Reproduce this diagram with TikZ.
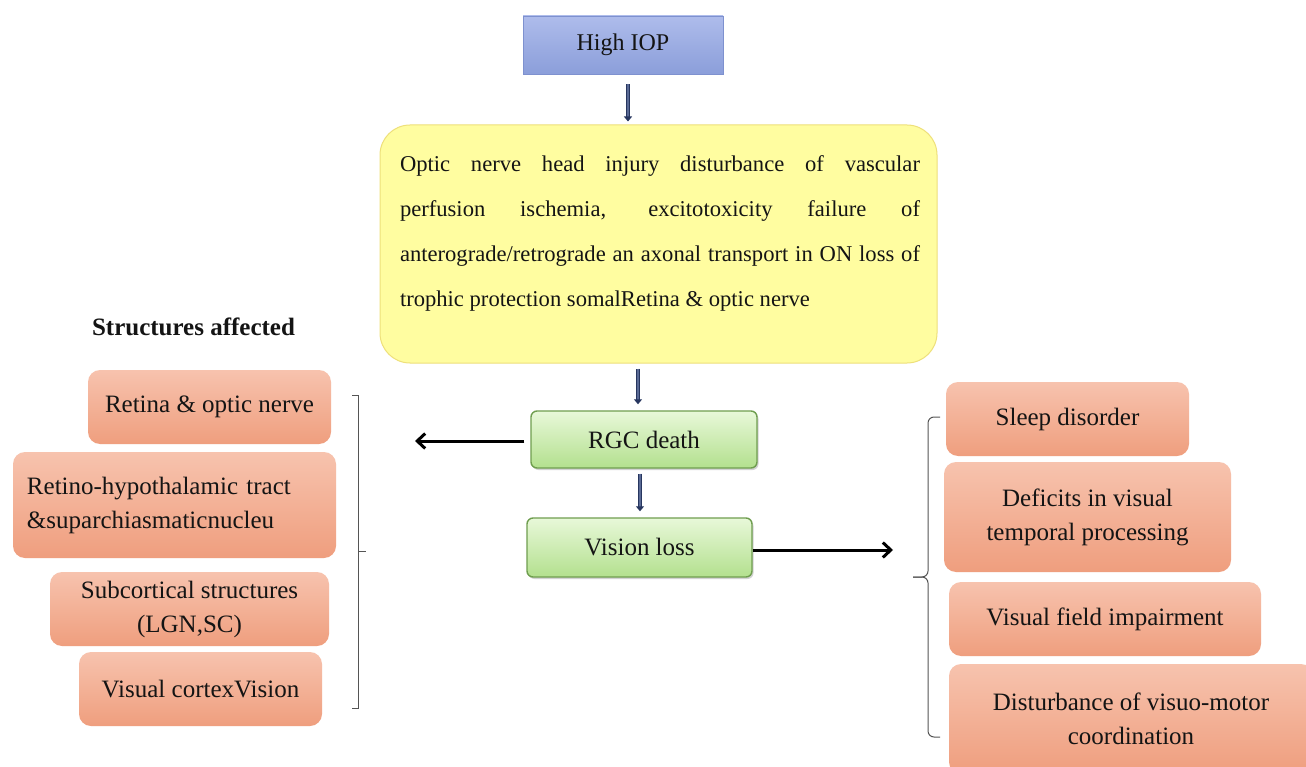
\documentclass[tikz,border=0pt]{standalone}
\usepackage{fontspec}
\setmainfont{Liberation Serif}
\usetikzlibrary{arrows.meta,shadows}
\definecolor{iopTop}{HTML}{AEBCEB}
\definecolor{iopBot}{HTML}{8B9EDA}
\definecolor{iopLine}{HTML}{7E91CF}
\definecolor{yelFill}{HTML}{FFFDA0}
\definecolor{yelLine}{HTML}{EEE07A}
\definecolor{grnTop}{HTML}{E8F8D9}
\definecolor{grnBot}{HTML}{B3E08E}
\definecolor{grnLine}{HTML}{6F9E4F}
\definecolor{salTop}{HTML}{F7C3AE}
\definecolor{salBot}{HTML}{EF9E7E}
\definecolor{navyArr}{HTML}{27365F}
\definecolor{navyIn}{HTML}{5A6A95}
\definecolor{txt}{HTML}{141414}
\definecolor{brk}{HTML}{555555}
\tikzset{
  iopbox/.style={draw=iopLine, line width=0.8pt, top color=iopTop, bottom color=iopBot,
    inner sep=0pt, text=txt, font=\fontsize{24}{30}\selectfont},
  yelbox/.style={draw=yelLine, line width=1pt, fill=yelFill, rounded corners=30pt, inner sep=0pt},
  yeltext/.style={text width=520pt, align=justify, inner sep=0pt, text=txt,
    font=\fontsize{22.6}{45}\selectfont,
    execute at begin node={\hyphenpenalty=10000\relax}},
  grnbox/.style={draw=grnLine, line width=1.4pt, top color=grnTop, bottom color=grnBot,
    rounded corners=6pt, inner sep=0pt, text=txt, font=\fontsize{25}{30}\selectfont,
    drop shadow={shadow xshift=1.5pt, shadow yshift=-2pt, opacity=0.35}},
  salbox/.style={draw=none, top color=salTop, bottom color=salBot, rounded corners=12pt,
    inner sep=0pt, text=txt, align=center, font=\fontsize{25}{34}\selectfont},
  navyarrow/.style={draw=navyArr, line width=1.1pt, double=navyIn, double distance=1.2pt,
    -{Triangle[length=5pt,width=8pt,fill=navyArr]}},
  blkarrow/.style={draw=black, line width=3pt, -{Straight Barb[length=8pt,width=15pt]}},
  bracket/.style={draw=brk, line width=1pt},
}
\begin{document}
\begin{tikzpicture}[x=1pt,y=-1pt]
\useasboundingbox (0,0) rectangle (1306,767);
\fill[white] (0,0) rectangle (1306,767);
\clip (0,0) rectangle (1306,767);

% central flow
\node[iopbox, minimum width=200pt, minimum height=58pt] (iop) at (623,45) {High IOP};
\node[yelbox, minimum width=557pt, minimum height=238pt] (opt) at (658.5,244) {};
\node[yeltext] (optt) at (660,233) {Optic nerve head injury disturbance of vascular\linebreak
perfusion ischemia, excitotoxicity failure of\linebreak
anterograde/retrograde an axonal transport in ON loss of\linebreak
trophic protection somalRetina \& optic nerve};
\node[grnbox, minimum width=226pt, minimum height=57pt] (rgc) at (644,439.5) {RGC death};
\node[grnbox, minimum width=225pt, minimum height=59pt] (vis) at (639.5,547.5) {Vision loss};

\draw[navyarrow] ([xshift=5pt,yshift=-10pt]iop.south) -- ([xshift=5pt,yshift=3pt]iop.south |- opt.north);
\draw[navyarrow] ([xshift=-20.5pt,yshift=-5pt]opt.south) -- ([xshift=-20.5pt,yshift=6pt]opt.south |- rgc.north);
\draw[navyarrow] ([xshift=-4pt,yshift=-5pt]rgc.south) -- ([xshift=-4pt,yshift=6pt]rgc.south |- vis.north);

\coordinate (la) at (415,441);
\coordinate (ra) at (893,550);
\draw[blkarrow] ([xshift=-6pt]rgc.west |- la) -- (la);
\draw[blkarrow] (vis.east |- ra) -- (ra);

% left column
\node[font=\bfseries\fontsize{25}{30}\selectfont, text=txt, inner sep=0pt] (sa) at (193.5,327) {Structures affected};
\node[salbox, minimum width=243pt, minimum height=74pt] (l1) at (209.5,407) {Retina \& optic nerve};
\node[salbox, minimum width=323pt, minimum height=106pt, text width=295pt, align=left] (l2) at (174.5,505)
  {Retino-hypothalamic tract\\\&suparchiasmaticnucleu};
\node[salbox, minimum width=279pt, minimum height=74pt] (l3) at (189.5,609) {Subcortical structures\\(LGN,SC)};
\node[salbox, minimum width=243pt, minimum height=74pt] (l4) at (200.5,689) {Visual cortexVision};

\draw[bracket] (352,395) -- (358,395) -- (358,708) -- (352,708);
\draw[bracket] (358,551) -- (366,551);

% right column
\node[salbox, minimum width=243pt, minimum height=74pt] (r1) at (1067.5,419) {Sleep disorder};
\node[salbox, minimum width=287pt, minimum height=110pt] (r2) at (1087.5,517) {Deficits in visual\\temporal processing};
\node[salbox, minimum width=312pt, minimum height=74pt] (r3) at (1105,619) {Visual field impairment};
\node[salbox, minimum width=364pt, minimum height=110pt] (r4) at (1131,719) {Disturbance of visuo-motor\\coordination};

\draw[bracket, rounded corners=6pt] (940,417) -- (928,417) -- (928,577) -- (913,577);
\draw[bracket, rounded corners=6pt] (913,577) -- (928,577) -- (928,737) -- (940,737);
\end{tikzpicture}
\end{document}
